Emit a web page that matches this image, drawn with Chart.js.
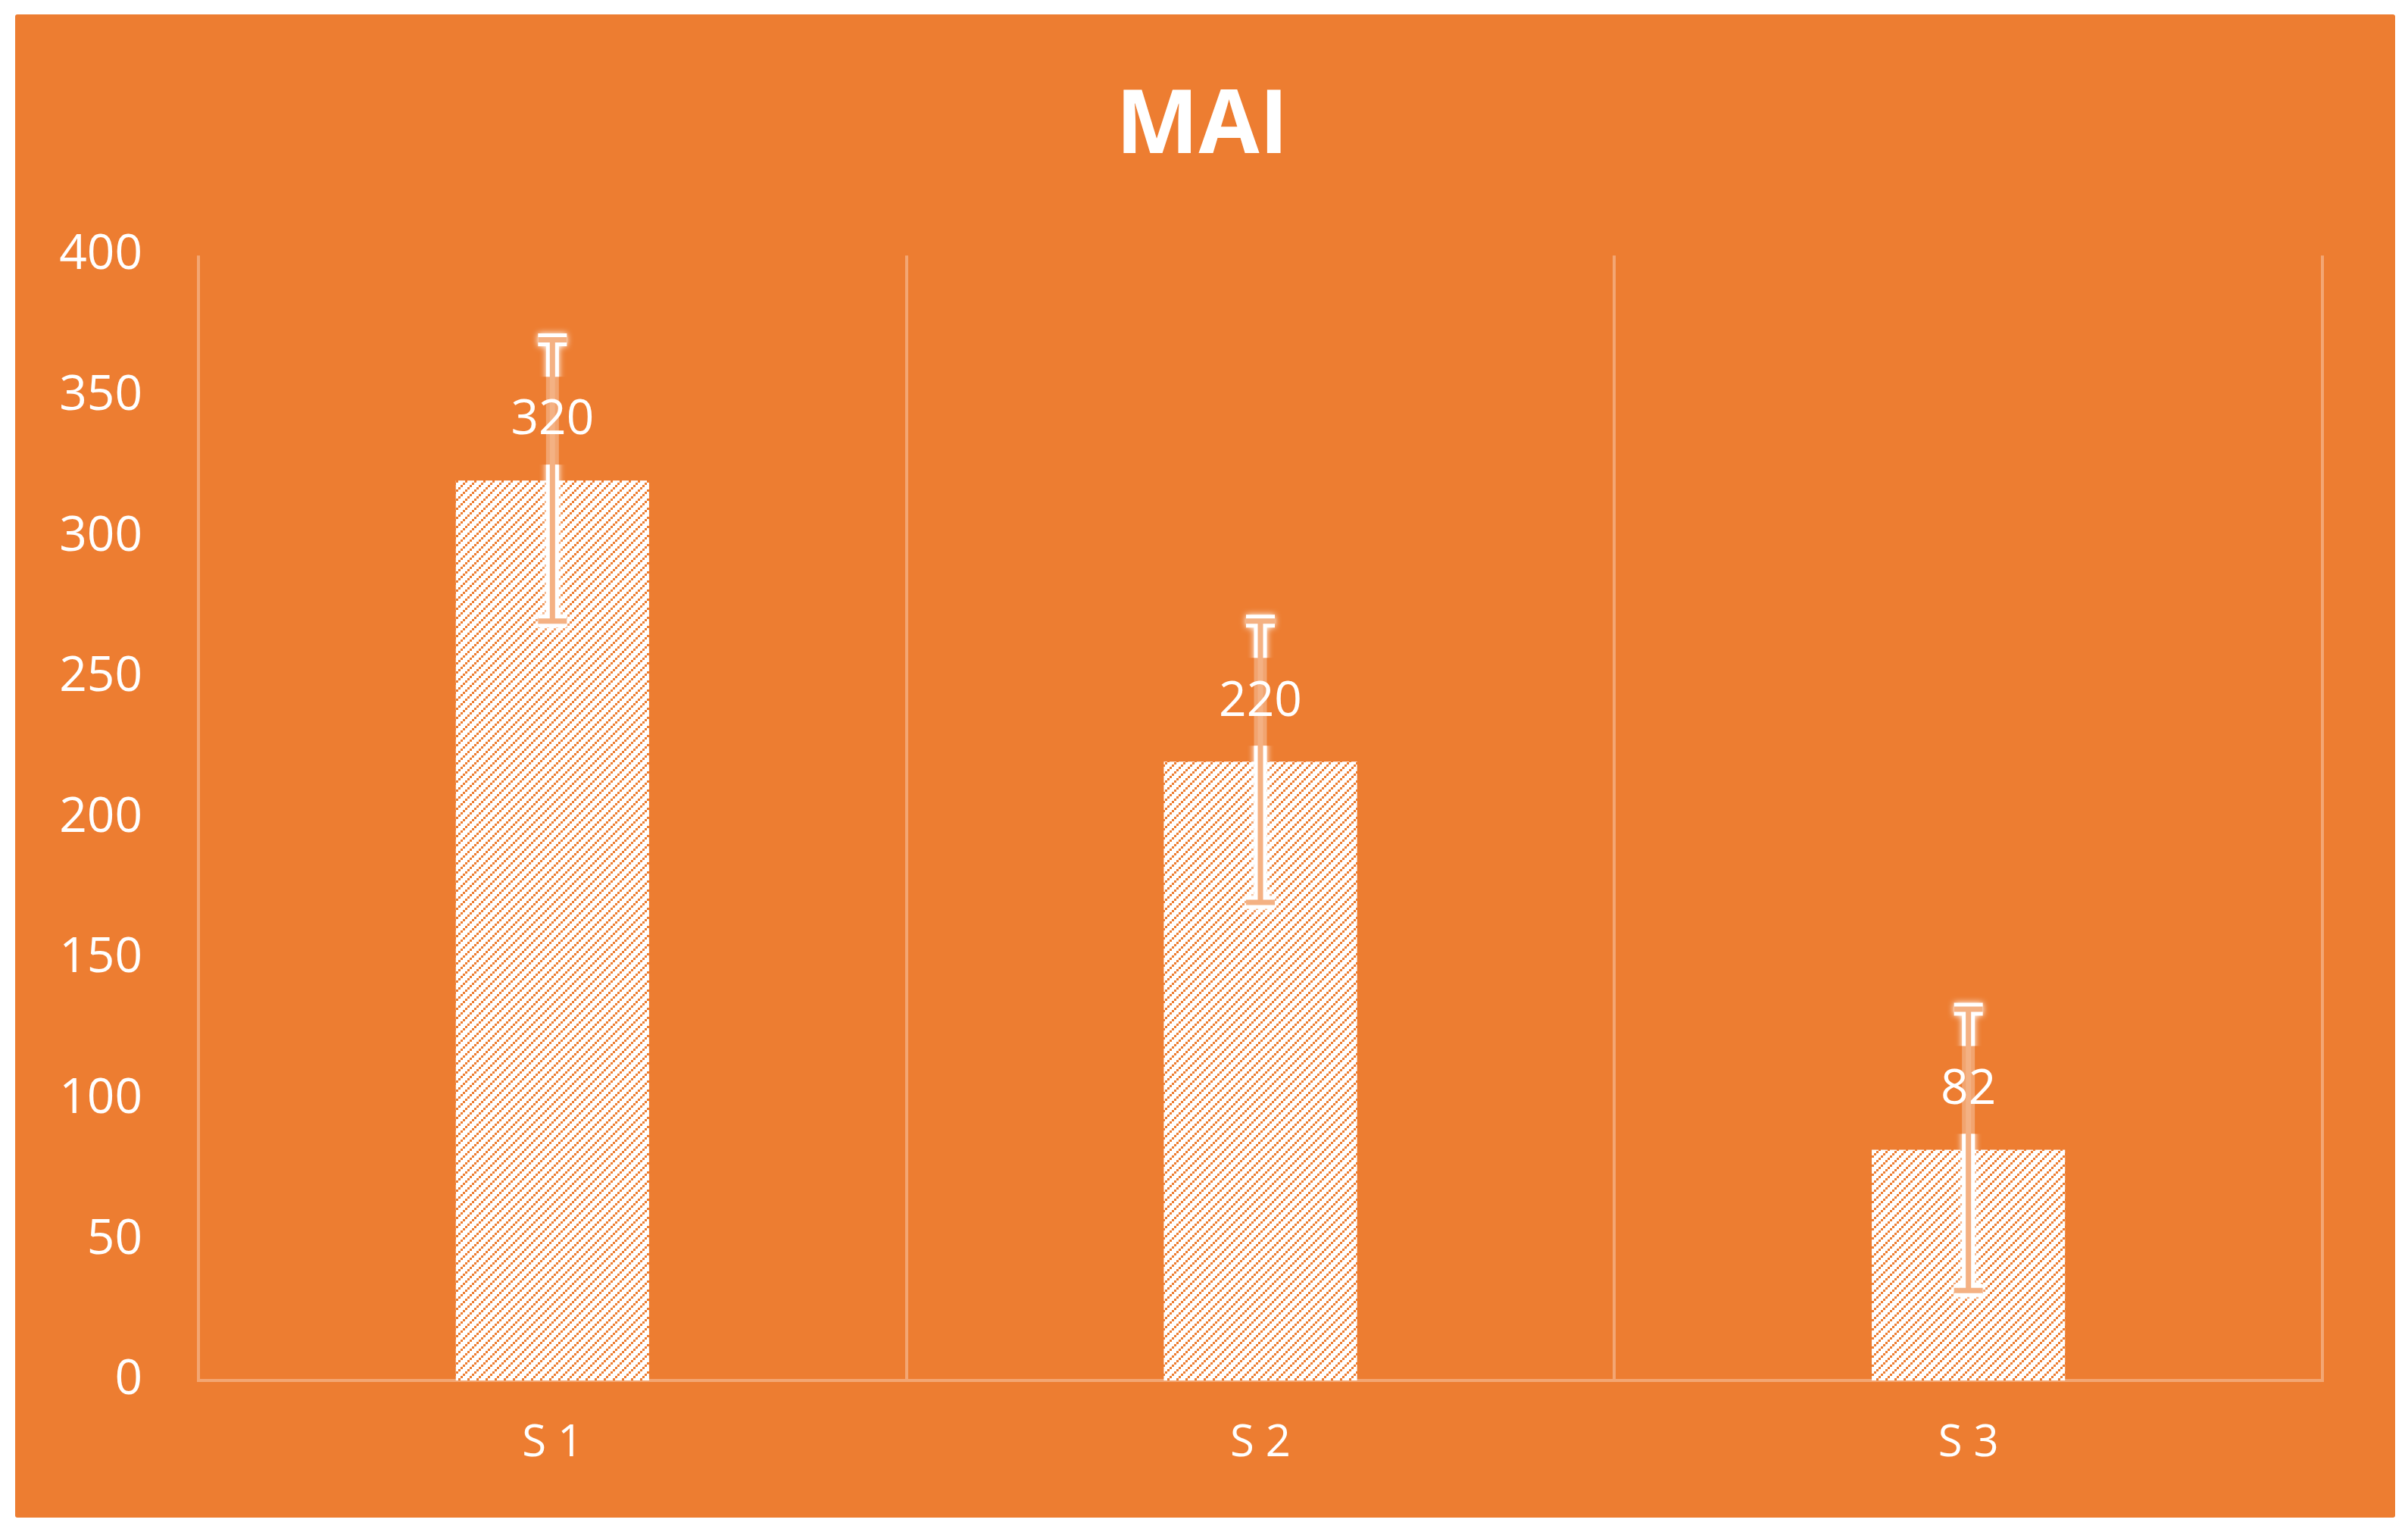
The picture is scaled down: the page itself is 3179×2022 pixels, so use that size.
<!DOCTYPE html>
<html lang="fr">
<head>
    <meta charset="UTF-8">
    <title>MAI</title>
    <script src="https://cdn.jsdelivr.net/npm/chart.js"></script>
    <style>
        body {
            margin: 0;
            background-color: #ffffff;
        }
        .frame {
            position: absolute;
            left: 20px;
            top: 19px;
            width: 3142px;
            height: 1984px;
            background-color: #ED7D31;
            border-radius: 3px;
        }
    </style>
</head>
<body>
    <div class="frame">
        <canvas id="maiChart" width="3142" height="1984"></canvas>
    </div>

    <script>
        // chart data
        const categories = ['S 1', 'S 2', 'S 3'];
        const values = [320, 220, 82];
        const errors = [50, 50, 50];
        const yMin = 0;
        const yMax = 400;
        const yStep = 50;

        const orange = '#ED7D31';
        const lightLine = 'rgba(255,255,255,0.32)';
        const errColor = '#F4B183';

        // white background with orange dotted upward diagonals
        function makeHatch() {
            const c = document.createElement('canvas');
            c.width = 12;
            c.height = 12;
            const g = c.getContext('2d');
            g.fillStyle = '#ffffff';
            g.fillRect(0, 0, 12, 12);
            g.fillStyle = orange;
            for (let i = 0; i < 4; i++) {
                g.fillRect(i * 3, 9 - i * 3, 3, 3);
            }
            return g.createPattern(c, 'repeat');
        }

        // centre the title on the whole frame, not on the padded box
        const centerTitle = {
            id: 'centerTitle',
            afterLayout(chart) {
                if (chart.titleBlock) {
                    chart.titleBlock.left = 0;
                    chart.titleBlock.right = chart.width - 8;
                }
            }
        };

        const errorBarsAndLabels = {
            id: 'errorBarsAndLabels',
            afterDatasetsDraw(chart) {
                const ctx = chart.ctx;
                const yScale = chart.scales.y;
                const meta = chart.getDatasetMeta(0);
                const capHalf = 19;

                meta.data.forEach((bar, i) => {
                    const x = bar.x;
                    const top = yScale.getPixelForValue(values[i] + errors[i]);
                    const bot = yScale.getPixelForValue(values[i] - errors[i]);
                    const labelY = bar.y - 79;

                    const path = () => {
                        ctx.beginPath();
                        ctx.moveTo(x, top);
                        ctx.lineTo(x, bot);
                        ctx.moveTo(x - capHalf, top);
                        ctx.lineTo(x + capHalf, top);
                        ctx.moveTo(x - capHalf, bot);
                        ctx.lineTo(x + capHalf, bot);
                    };

                    // glow, hidden behind the label box
                    ctx.save();
                    ctx.beginPath();
                    ctx.rect(0, 0, chart.width, chart.height);
                    ctx.rect(x - 60, labelY - 58, 120, 116);
                    ctx.clip('evenodd');
                    ctx.strokeStyle = '#ffffff';
                    ctx.shadowColor = '#ffffff';
                    ctx.shadowBlur = 8;
                    ctx.lineWidth = 17;
                    path();
                    ctx.stroke();
                    ctx.restore();

                    // faint glow through the label box
                    ctx.save();
                    ctx.beginPath();
                    ctx.rect(x - 60, labelY - 58, 120, 116);
                    ctx.clip();
                    ctx.strokeStyle = 'rgba(255,255,255,0.3)';
                    ctx.lineWidth = 17;
                    path();
                    ctx.stroke();
                    ctx.restore();

                    ctx.save();
                    ctx.strokeStyle = errColor;
                    ctx.lineWidth = 7;
                    path();
                    ctx.stroke();
                    ctx.restore();

                    // value label
                    ctx.save();
                    ctx.fillStyle = '#ffffff';
                    ctx.font = '64px "Open Sans"';
                    ctx.textAlign = 'center';
                    ctx.textBaseline = 'middle';
                    ctx.fillText(String(values[i]), x, labelY);
                    ctx.restore();
                });
            }
        };

        const ctx = document.getElementById('maiChart').getContext('2d');
        const maiChart = new Chart(ctx, {
            type: 'bar',
            data: {
                labels: categories,
                datasets: [{
                    label: 'MAI',
                    data: values,
                    backgroundColor: makeHatch(),
                    borderWidth: 0,
                    categoryPercentage: 1,
                    barPercentage: 0.273
                }]
            },
            options: {
                responsive: false,
                devicePixelRatio: 1,
                animation: false,
                layout: {
                    padding: { left: 0, right: 96, top: 0, bottom: 0 }
                },
                plugins: {
                    legend: { display: false },
                    tooltip: { enabled: false },
                    title: {
                        display: true,
                        text: 'MAI',
                        color: '#ffffff',
                        font: { family: '"Open Sans"', size: 116, weight: 'bold', lineHeight: 1.2 },
                        padding: { top: 80, bottom: 99 }
                    }
                },
                scales: {
                    x: {
                        grid: {
                            display: true,
                            offset: true,
                            color: lightLine,
                            lineWidth: 4,
                            drawTicks: false
                        },
                        border: { display: true, color: lightLine, width: 4 },
                        ticks: {
                            color: '#ffffff',
                            padding: 49,
                            font: { family: '"Open Sans"', size: 58 }
                        },
                        afterFit(scale) { scale.height = 181; }
                    },
                    y: {
                        min: yMin,
                        max: yMax,
                        grid: { display: false, drawTicks: false },
                        border: { display: false },
                        ticks: {
                            stepSize: yStep,
                            color: '#ffffff',
                            padding: 74,
                            font: { family: '"Open Sans"', size: 64 }
                        },
                        afterFit(scale) { scale.width = 242; }
                    }
                }
            },
            plugins: [centerTitle, errorBarsAndLabels]
        });
    </script>
</body>
</html>
